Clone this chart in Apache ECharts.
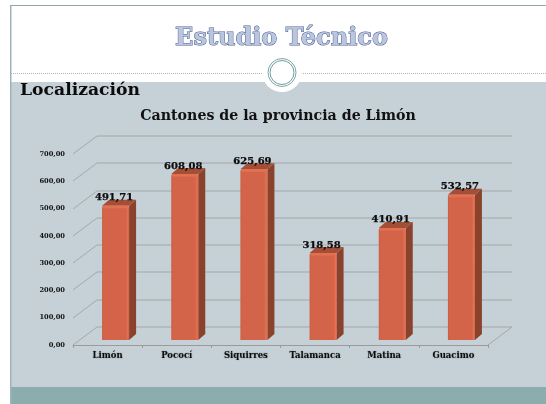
<!DOCTYPE html>
<html><head><meta charset="utf-8">
<style>html,body{margin:0;padding:0;background:#fff}#c{width:546px;height:404px}</style>
<script src="https://cdn.jsdelivr.net/npm/echarts@6/dist/echarts.min.js"></script>
</head><body><div id="c"></div>
<script>
const categories = ['Limón','Pococí','Siquirres','Talamanca','Matina','Guacimo'];
const values = [491.71,608.08,625.69,318.58,410.91,532.57];
const valueLabels = ['491,71','608,08','625,69','318,58','410,91','532,57'];
const ticks = [0,100,200,300,400,500,600,700];
const tickFmt = v => v.toFixed(2).replace('.',',');
const serif = '"DejaVu Serif"';
const DX=24, DY=18, BW=27, BOX=8, BOY=5, DEPX=7, DEPY=6;

const chart = echarts.init(document.getElementById('c'),null,{renderer:'canvas'});
chart.setOption({
  animation:false,
  backgroundColor:'#fff',
  graphic:[
    {type:'rect',z:-10,shape:{x:11,y:82,width:535,height:305},style:{fill:'#C5D0D7'}},
    {type:'rect',z:-10,shape:{x:11,y:387,width:535,height:17},style:{fill:'#8BADAD'}},
    {type:'rect',z:-9,shape:{x:10,y:5,width:1.5,height:399},style:{fill:'#9DB5B8'}},
    {type:'rect',z:-9,shape:{x:10,y:5,width:536,height:1},style:{fill:'#8FA9AD'}},
    {type:'line',z:-9,shape:{x1:11,y1:73.5,x2:546,y2:73.5},style:{stroke:'#A9B8B8',lineWidth:1,lineDash:[1,1]}},
    {type:'circle',z:-8,shape:{cx:282,cy:72,r:20},style:{fill:'#fff'}},
    {type:'circle',z:-7,shape:{cx:282,cy:72.5,r:14},style:{fill:'#fff',stroke:'#7FA5A5',lineWidth:1}},
    {type:'circle',z:-7,shape:{cx:282,cy:72.5,r:12},style:{fill:'#fff',stroke:'#6F9C9C',lineWidth:1}},
    {type:'text',z:5,x:281.5,y:38.5,style:{text:'Estudio Técnico',font:'bold 24px "DejaVu Serif"',fill:'#B9C6DE',stroke:'#4C5C94',lineWidth:1,textAlign:'center',textVerticalAlign:'middle',shadowColor:'rgba(0,0,0,0.4)',shadowBlur:3,shadowOffsetX:-2,shadowOffsetY:2}},
    {type:'text',z:5,x:20,y:91,style:{text:'Localización',font:'bold 17.2px '+serif,fill:'#0b0b0b',textAlign:'left',textVerticalAlign:'middle'}},
    {type:'text',z:5,x:278,y:116,style:{text:'Cantones de la provincia de Limón',font:'bold 14.2px '+serif,fill:'#111',textAlign:'center',textVerticalAlign:'middle'}}
  ],
  grid:{left:73,right:58,top:154,bottom:59,containLabel:false},
  xAxis:{type:'category',data:categories,
    axisLine:{lineStyle:{color:'#9A9A9A',width:1}},
    axisTick:{show:true,length:3,lineStyle:{color:'#9A9A9A'}},
    axisLabel:{margin:6,color:'#0c0c0c',fontFamily:serif,fontWeight:'bold',fontSize:8.5,interval:0,textShadowColor:'rgba(0,0,0,0.35)',textShadowBlur:1.5}},
  yAxis:{type:'value',min:0,max:700,interval:100,
    axisLine:{show:false},
    axisTick:{show:false},splitLine:{show:false},
    axisLabel:{margin:8,color:'#111',fontFamily:serif,fontWeight:'bold',fontSize:6.7,formatter:tickFmt}},
  series:[
    {type:'custom',z:1,silent:true,data:ticks.map(v=>[0,v]),
      renderItem(p,api){
        const s=p.coordSys, v=api.value(1), y=Math.round(api.coord([0,v])[1]);
        const x0=s.x, x1=s.x+s.width;
        const pts = v===0
          ? [[x0,y],[x0+DX,y-DY],[x1+DX,y-DY],[x1,y]]
          : [[x0,y],[x0+DX,y-DY],[x1+DX,y-DY]];
        return {type:'polyline',shape:{points:pts},style:{fill:'none',stroke:'#A4A8A9',lineWidth:1}};
      },encode:{x:0,y:1}},
    {type:'custom',z:2,silent:true,data:values.map((v,i)=>[i,v,valueLabels[i]]),
      renderItem(p,api){
        const c=api.coord([api.value(0),api.value(1)]), b=api.coord([api.value(0),0]);
        const xl=c[0]+BOX-BW/2, xr=xl+BW, yt=c[1]-BOY, yb=b[1]-BOY;
        const grad=new echarts.graphic.LinearGradient(0,0,1,0,[
          {offset:0,color:'#C95C42'},{offset:0.06,color:'#D3644A'},{offset:0.88,color:'#D3644A'},{offset:0.96,color:'#E87050'},{offset:1,color:'#C95C42'}]);
        return {type:'group',children:[
          {type:'polygon',shape:{points:[[xr,yt],[xr+DEPX,yt-DEPY],[xr+DEPX,yb-DEPY],[xr,yb]]},style:{fill:'#8A422D'}},
          {type:'polygon',shape:{points:[[xl,yt],[xl+DEPX,yt-DEPY],[xr+DEPX,yt-DEPY],[xr,yt]]},style:{fill:'#A34E36'}},
          {type:'rect',shape:{x:xl,y:yt,width:BW,height:yb-yt,r:[2,2,0,0]},style:{fill:grad}},
          {type:'rect',shape:{x:xl+1,y:yt,width:BW-2,height:2.5,r:[1,1,0,0]},style:{fill:'#E5704F'}},
          {type:'text',x:xl+BW/2-1.5,y:yt-8,z2:5,style:{text:api.value(2),font:'bold 10px '+serif,fill:'#0c0c0c',stroke:'#0c0c0c',lineWidth:0.25,textAlign:'center',textVerticalAlign:'middle',shadowColor:'rgba(0,0,0,0.35)',shadowBlur:1.5}}
        ]};
      },encode:{x:0,y:1}}
  ]
});
</script></body></html>
